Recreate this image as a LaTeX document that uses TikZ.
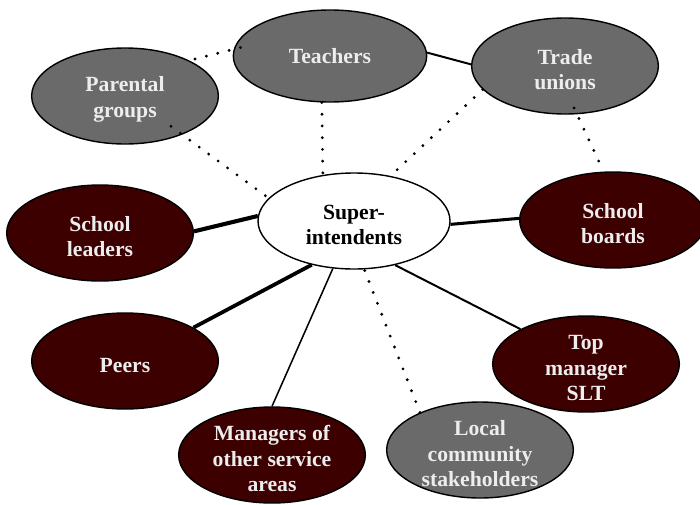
\documentclass[tikz,border=0pt]{standalone}
\usepackage{fontspec}
\setmainfont{Liberation Serif}
\usetikzlibrary{shapes.geometric}

\definecolor{boxred}{HTML}{3C0000}
\definecolor{boxgrey}{HTML}{6A6A6A}
% extra room above the first line, pushes the text a little lower
\newcommand{\topgap}{\rule{0pt}{19pt}}

\begin{document}
\begin{tikzpicture}[x=0.03cm, y=-0.03cm,
    every node/.style={font=\bfseries\fontsize{18.5}{22}\selectfont, align=center},
    tie/.style={ellipse, draw=black, line width=1.2pt, inner sep=-10pt,
                minimum width=5.6cm, minimum height=2.88cm, text=white!93!black},
    close/.style={tie, fill=boxred},
    far/.style={tie, fill=boxgrey},
    link/.style={line width=#1},
    loose/.style={line width=2.7pt, line cap=round, dash pattern=on 0pt off 10pt}]
    \useasboundingbox (0,0) rectangle (700,505);

    % Outer ring (grey)
    \node[far] (parents) at (125,96) {\topgap Parental\\groups};
    \node[far, minimum width=5.8cm, minimum height=2.76cm] (teachers) at (330,56) {Teachers};
    \node[far] (unions) at (565,66) {\topgap Trade\\unions};
    \node[far] (community) at (480,450) {\topgap Local\\community\\stakeholders};

    % Centre
    \node[tie, fill=white, text=black, minimum width=5.76cm] (super) at (354,221) {\topgap Super-\\intendents};

    % Inner ring (dark red)
    \node[close] (leaders) at (100,233) {\topgap School\\leaders};
    \node[close] (boards) at (613,220) {\topgap School\\boards};
    \node[close] (peers) at (125,361) {\topgap Peers};
    \node[close] (managers) at (272,455) {\topgap Managers of\\other service\\areas};
    \node[close] (topmgr) at (586,364) {\topgap Top\\manager\\SLT};

    % Strong ties
    \draw[link=3.5pt] (leaders.1) -- (super.177);
    \draw[link=2.6pt] (boards.179) -- (super.-2);
    \draw[link=3.2pt] (peers.26) -- (super.-134);
    \draw[link=1.3pt] (managers.90) -- (super.-114);
    \draw[link=1.7pt] (topmgr.152) -- (super.-47);
    \draw[link=1.7pt] (teachers.2) -- (unions.179);

    % Weak ties
    \draw[loose, shorten <=-6pt] (teachers.176) -- (parents.29);
    \draw[loose, shorten <=-12pt] (parents.-34) -- (super.165);
    \draw[loose] (teachers.-100) -- (super.124);
    \draw[loose] (unions.-164) -- (super.51);
    \draw[loose, shorten <=-6pt] (unions.-76) -- (boards.101);
    \draw[loose] (community.148) -- (super.-78);
\end{tikzpicture}
\end{document}
